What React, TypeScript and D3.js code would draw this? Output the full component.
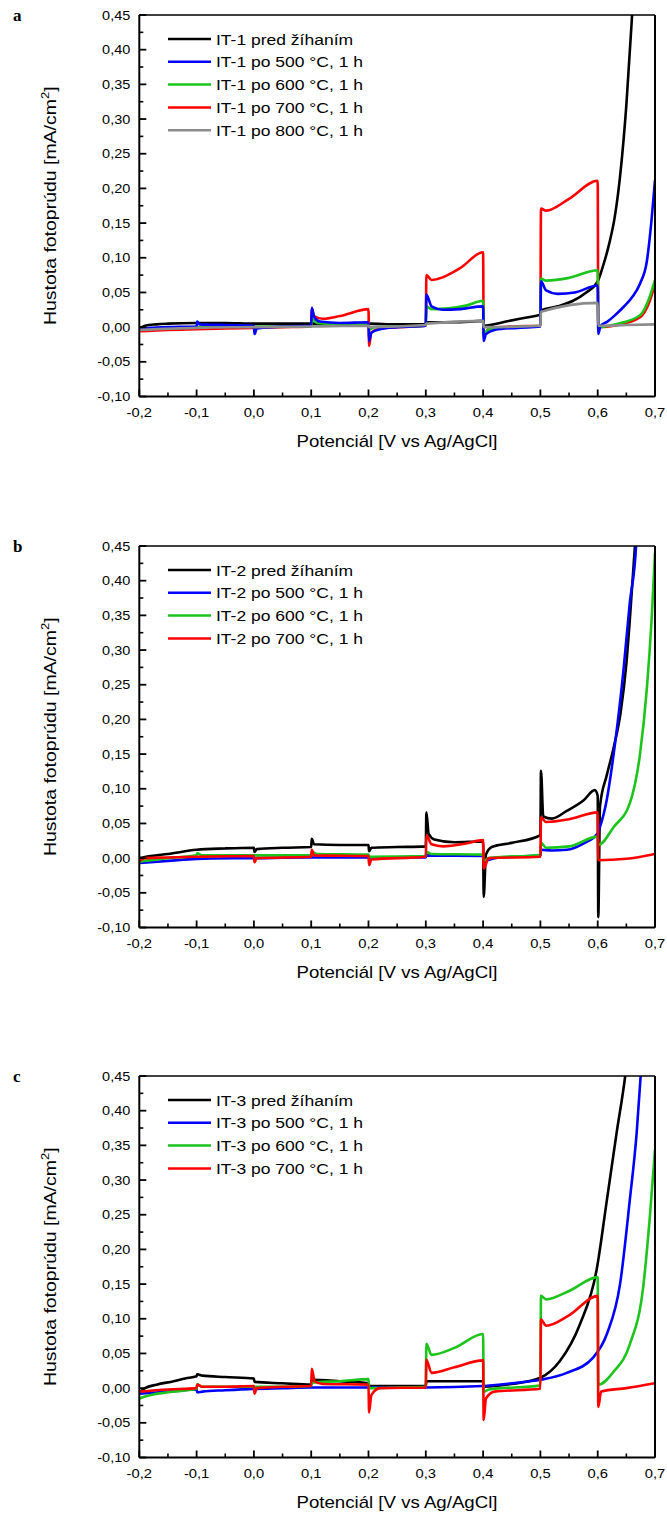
import React from "react";
import * as d3 from "d3";

type P = [number, number];

const xTicks = [-0.2, -0.1, 0.0, 0.1, 0.2, 0.3, 0.4, 0.5, 0.6, 0.7];
const yTicks = [-0.1, -0.05, 0, 0.05, 0.1, 0.15, 0.2, 0.25, 0.3, 0.35, 0.4, 0.45];

const legendA = ["IT-1 pred žíhaním", "IT-1 po 500 °C, 1 h", "IT-1 po 600 °C, 1 h", "IT-1 po 700 °C, 1 h", "IT-1 po 800 °C, 1 h"];
const legendB = ["IT-2 pred žíhaním", "IT-2 po 500 °C, 1 h", "IT-2 po 600 °C, 1 h", "IT-2 po 700 °C, 1 h"];
const legendC = ["IT-3 pred žíhaním", "IT-3 po 500 °C, 1 h", "IT-3 po 600 °C, 1 h", "IT-3 po 700 °C, 1 h"];

const colors = ["#000000", "#0000ff", "#1cc41c", "#ff0000", "#8c8c8c"];

// Panel a
const aBlack: P[] = [[-0.2,-0.002],[-0.19,0.002],[-0.17,0.004],[-0.15,0.005],[-0.1,0.006],[-0.05,0.006],[0.0,0.005],[0.05,0.005],[0.1,0.005],[0.15,0.005],[0.2,0.005],[0.25,0.004],[0.3,0.004],[0.301,0.007],[0.35,0.007],[0.4,0.009],[0.401,0.002],[0.44,0.008],[0.476,0.014],[0.5,0.018],[0.501,0.024],[0.53,0.03],[0.557,0.038],[0.58,0.05],[0.6,0.066],[0.61,0.09],[0.62,0.12],[0.63,0.16],[0.64,0.225],[0.65,0.32],[0.66,0.45],[0.665,0.52]];
const aBlue: P[] = [[-0.2,-0.004],[-0.18,-0.001],[-0.15,0.0],[-0.1,0.001],[-0.099,0.008],[-0.095,0.004],[-0.05,0.003],[0.0,0.002],[0.001,-0.01],[0.005,-0.002],[0.05,0.001],[0.1,0.002],[0.101,0.028],[0.105,0.015],[0.115,0.008],[0.15,0.006],[0.2,0.007],[0.201,-0.02],[0.205,-0.008],[0.22,-0.003],[0.25,0.0],[0.3,0.002],[0.301,0.047],[0.31,0.03],[0.33,0.025],[0.36,0.026],[0.4,0.03],[0.401,-0.02],[0.405,-0.01],[0.42,-0.004],[0.46,-0.001],[0.5,0.001],[0.501,0.066],[0.51,0.053],[0.53,0.048],[0.56,0.05],[0.6,0.06],[0.601,-0.01],[0.605,0.002],[0.617,0.008],[0.63,0.017],[0.645,0.029],[0.66,0.043],[0.674,0.063],[0.686,0.096],[0.694,0.155],[0.7,0.212]];
const aGreen: P[] = [[-0.2,-0.004],[-0.15,-0.001],[-0.1,0.0],[-0.05,0.001],[0.0,0.001],[0.05,0.001],[0.1,0.001],[0.101,0.012],[0.11,0.006],[0.15,0.004],[0.2,0.004],[0.201,-0.004],[0.21,0.0],[0.25,0.001],[0.3,0.002],[0.301,0.03],[0.31,0.026],[0.34,0.027],[0.37,0.031],[0.4,0.038],[0.401,-0.01],[0.41,-0.003],[0.45,0.0],[0.5,0.002],[0.501,0.07],[0.51,0.067],[0.55,0.071],[0.6,0.082],[0.601,0.0],[0.62,0.002],[0.645,0.007],[0.675,0.018],[0.69,0.042],[0.7,0.068]];
const aRed: P[] = [[-0.2,-0.006],[-0.15,-0.004],[-0.1,-0.003],[-0.05,-0.002],[0.0,-0.001],[0.05,0.0],[0.1,0.001],[0.101,0.027],[0.105,0.016],[0.12,0.012],[0.15,0.016],[0.2,0.026],[0.201,-0.027],[0.205,-0.008],[0.22,-0.002],[0.25,0.0],[0.3,0.002],[0.301,0.075],[0.31,0.068],[0.33,0.072],[0.36,0.085],[0.4,0.108],[0.401,-0.012],[0.41,-0.002],[0.45,0.001],[0.5,0.002],[0.501,0.171],[0.51,0.168],[0.55,0.185],[0.6,0.211],[0.601,0.0],[0.62,0.001],[0.645,0.005],[0.675,0.015],[0.69,0.036],[0.7,0.062]];
const aGray: P[] = [[-0.2,-0.004],[-0.1,-0.001],[0.0,0.0],[0.1,0.001],[0.2,0.002],[0.201,0.0],[0.3,0.003],[0.301,0.005],[0.4,0.009],[0.401,0.0],[0.5,0.002],[0.501,0.022],[0.6,0.035],[0.601,0.002],[0.65,0.003],[0.7,0.004]];

// Panel b
const bBlack: P[] = [[-0.2,0.0],[-0.18,0.003],[-0.15,0.006],[-0.1,0.012],[-0.05,0.014],[0.0,0.015],[0.001,0.009],[0.005,0.013],[0.05,0.015],[0.1,0.016],[0.101,0.028],[0.105,0.02],[0.15,0.019],[0.2,0.019],[0.201,0.01],[0.205,0.015],[0.25,0.016],[0.3,0.017],[0.301,0.066],[0.305,0.035],[0.315,0.027],[0.35,0.023],[0.4,0.024],[0.401,-0.056],[0.405,0.005],[0.415,0.016],[0.45,0.022],[0.5,0.033],[0.501,0.126],[0.505,0.06],[0.52,0.057],[0.546,0.068],[0.575,0.083],[0.595,0.098],[0.6,0.09],[0.601,-0.085],[0.604,0.075],[0.616,0.12],[0.628,0.16],[0.64,0.21],[0.65,0.28],[0.656,0.343],[0.665,0.45],[0.67,0.52]];
const bBlue: P[] = [[-0.2,-0.007],[-0.15,-0.004],[-0.1,-0.001],[0.0,0.0],[0.1,0.001],[0.2,0.001],[0.3,0.001],[0.301,0.004],[0.4,0.003],[0.401,-0.004],[0.42,0.0],[0.5,0.004],[0.501,0.012],[0.52,0.011],[0.546,0.012],[0.575,0.021],[0.6,0.036],[0.604,0.045],[0.616,0.085],[0.628,0.151],[0.645,0.271],[0.656,0.368],[0.667,0.45],[0.67,0.5]];
const bGreen: P[] = [[-0.2,-0.005],[-0.15,0.0],[-0.1,0.004],[-0.099,0.007],[-0.09,0.004],[0.0,0.004],[0.05,0.004],[0.1,0.004],[0.101,0.009],[0.11,0.006],[0.2,0.005],[0.201,0.002],[0.3,0.003],[0.301,0.009],[0.31,0.006],[0.4,0.005],[0.401,-0.004],[0.41,0.0],[0.5,0.005],[0.501,0.022],[0.51,0.015],[0.55,0.017],[0.6,0.031],[0.601,0.019],[0.628,0.045],[0.656,0.079],[0.674,0.151],[0.686,0.247],[0.694,0.343],[0.7,0.44]];
const bRed: P[] = [[-0.2,-0.004],[-0.19,0.0],[-0.15,0.001],[-0.1,0.002],[0.0,0.003],[0.001,-0.006],[0.005,0.0],[0.1,0.002],[0.101,0.012],[0.105,0.004],[0.2,0.003],[0.201,-0.01],[0.205,-0.002],[0.3,0.002],[0.301,0.033],[0.31,0.02],[0.33,0.017],[0.37,0.021],[0.4,0.026],[0.401,-0.015],[0.41,0.0],[0.5,0.002],[0.501,0.059],[0.51,0.052],[0.55,0.056],[0.6,0.066],[0.601,-0.003],[0.65,-0.001],[0.7,0.006]];

// Panel c
const cBlack: P[] = [[-0.2,-0.006],[-0.19,0.0],[-0.17,0.005],[-0.14,0.01],[-0.12,0.014],[-0.1,0.017],[-0.099,0.02],[-0.09,0.018],[-0.05,0.016],[0.0,0.014],[0.001,0.009],[0.05,0.007],[0.1,0.005],[0.101,0.012],[0.15,0.01],[0.2,0.007],[0.201,0.003],[0.25,0.003],[0.3,0.003],[0.301,0.01],[0.4,0.01],[0.401,0.002],[0.45,0.006],[0.5,0.015],[0.534,0.039],[0.569,0.092],[0.598,0.17],[0.616,0.271],[0.633,0.368],[0.648,0.45],[0.655,0.5]];
const cBlue: P[] = [[-0.2,-0.008],[-0.15,-0.005],[-0.1,-0.002],[-0.099,-0.006],[-0.09,-0.005],[-0.05,-0.003],[0.0,-0.001],[0.05,0.0],[0.1,0.001],[0.2,0.001],[0.3,0.001],[0.4,0.003],[0.45,0.007],[0.5,0.012],[0.546,0.022],[0.592,0.044],[0.616,0.078],[0.639,0.15],[0.656,0.271],[0.668,0.368],[0.675,0.45],[0.68,0.52]];
const cGreen: P[] = [[-0.2,-0.015],[-0.18,-0.01],[-0.15,-0.006],[-0.1,-0.001],[-0.099,0.005],[-0.09,0.002],[0.0,0.002],[0.05,0.002],[0.1,0.003],[0.101,0.008],[0.15,0.01],[0.2,0.013],[0.201,0.0],[0.25,0.001],[0.3,0.002],[0.301,0.064],[0.31,0.048],[0.35,0.058],[0.4,0.078],[0.401,-0.005],[0.41,-0.002],[0.5,0.004],[0.501,0.133],[0.51,0.128],[0.55,0.14],[0.6,0.16],[0.601,0.005],[0.628,0.024],[0.656,0.063],[0.68,0.15],[0.691,0.247],[0.7,0.344]];
const cRed: P[] = [[-0.2,-0.005],[-0.15,-0.002],[-0.1,0.0],[-0.099,0.005],[-0.09,0.002],[-0.05,0.002],[0.0,0.003],[0.001,-0.008],[0.005,0.0],[0.05,0.002],[0.1,0.003],[0.101,0.028],[0.106,0.01],[0.12,0.006],[0.2,0.005],[0.201,-0.035],[0.205,-0.01],[0.22,0.0],[0.3,0.001],[0.301,0.041],[0.31,0.022],[0.35,0.03],[0.4,0.04],[0.401,-0.046],[0.405,-0.015],[0.42,-0.005],[0.5,-0.001],[0.501,0.099],[0.51,0.09],[0.55,0.105],[0.6,0.133],[0.601,-0.027],[0.606,-0.005],[0.65,0.0],[0.7,0.007]];

const panelTops = [15, 546, 1076];
const panelLetters = ["a", "b", "c"];

const panels = [
  { legend: legendA, series: [aBlack, aBlue, aGreen, aRed, aGray], order: [0, 3, 2, 1, 4] },
  { legend: legendB, series: [bBlack, bBlue, bGreen, bRed], order: [0, 1, 2, 3] },
  { legend: legendC, series: [cBlack, cBlue, cGreen, cRed], order: [0, 1, 2, 3] },
];

const LEFT = 139.3;
const RIGHT = 655;
const H = 381.5;
const FONT = "'Liberation Sans', Arial, sans-serif";

const fmtX = (v: number) => d3.format(".1f")(v).replace(".", ",").replace("−", "-");
const fmtY = (v: number) => d3.format(".2f")(v).replace(".", ",").replace("−", "-");

function SText({ x, y, sx, size, anchor, children }: { x: number; y: number; sx: number; size: number; anchor: string; children: React.ReactNode }) {
  return (
    <text transform={`translate(${x},${y}) scale(${sx},1)`} textAnchor={anchor} fontFamily={FONT} fontSize={size}>
      {children}
    </text>
  );
}

function Panel({ idx }: { idx: number }) {
  const top = panelTops[idx];
  const p = panels[idx];
  const x = d3.scaleLinear().domain([-0.2, 0.7]).range([LEFT, RIGHT]);
  const y = d3.scaleLinear().domain([-0.1, 0.45]).range([top + H, top]);
  const line = d3.line<P>().x((d) => x(d[0])).y((d) => y(d[1])).curve(d3.curveMonotoneX);
  const clipId = `clip${idx}`;
  const bottom = top + H;
  const xMinor = d3.range(-0.15, 0.7, 0.1);
  const yMinor = d3.range(-0.075, 0.45, 0.05);
  return (
    <g>
      <defs>
        <clipPath id={clipId}>
          <rect x={LEFT} y={top} width={RIGHT - LEFT} height={H} />
        </clipPath>
      </defs>
      <text x={13} y={top + 6} fontFamily="'Liberation Serif', serif" fontWeight="bold" fontSize={17}>
        {panelLetters[idx]}
      </text>
      <g clipPath={`url(#${clipId})`}>
        {p.order.map((si) => (
          <path key={si} d={line(p.series[si]) || ""} fill="none" stroke={colors[si]} strokeWidth={2.6} strokeLinejoin="round" />
        ))}
      </g>
      {/* frame */}
      <line x1={LEFT} x2={RIGHT} y1={top} y2={top} stroke="#000" strokeWidth={1.5} />
      <line x1={RIGHT} x2={RIGHT} y1={top} y2={bottom} stroke="#000" strokeWidth={2} />
      <line x1={LEFT} x2={LEFT} y1={top} y2={bottom} stroke="#000" strokeWidth={2} />
      <line x1={LEFT} x2={RIGHT} y1={bottom} y2={bottom} stroke="#000" strokeWidth={2} />
      {xTicks.map((t) => (
        <g key={`xt${t}`}>
          <line x1={x(t)} x2={x(t)} y1={bottom} y2={bottom - 7} stroke="#000" strokeWidth={1.8} />
          <SText x={x(t)} y={bottom + 20} sx={1.18} size={12.5} anchor="middle">
            {fmtX(t)}
          </SText>
        </g>
      ))}
      {xMinor.map((t) => (
        <line key={`xm${t}`} x1={x(t)} x2={x(t)} y1={bottom} y2={bottom - 4} stroke="#000" strokeWidth={1.6} />
      ))}
      {yTicks.map((t) => (
        <g key={`yt${t}`}>
          <line x1={LEFT} x2={LEFT + 7} y1={y(t)} y2={y(t)} stroke="#000" strokeWidth={1.8} />
          <SText x={LEFT - 9} y={y(t) + 4.5} sx={1.16} size={12.5} anchor="end">
            {fmtY(t)}
          </SText>
        </g>
      ))}
      {yMinor.map((t) => (
        <line key={`ym${t}`} x1={LEFT} x2={LEFT + 4} y1={y(t)} y2={y(t)} stroke="#000" strokeWidth={1.6} />
      ))}
      <text x={397} y={bottom + 50} textAnchor="middle" fontFamily={FONT} fontSize={17} textLength={201} lengthAdjust="spacingAndGlyphs">
        Potenciál [V vs Ag/AgCl]
      </text>
      <text
        transform={`translate(56,${top + H / 2}) rotate(-90) scale(1.18,1)`}
        textAnchor="middle"
        fontFamily={FONT}
        fontSize={16.5}
      >
        Hustota fotoprúdu [mA/cm
        <tspan fontSize={11} dy={-7}>2</tspan>
        <tspan dy={7}>]</tspan>
      </text>
      {p.legend.map((lab, i) => {
        const ly = top + 24 + i * 22.8;
        return (
          <g key={lab}>
            <line x1={168} x2={211} y1={ly} y2={ly} stroke={colors[i]} strokeWidth={2.5} />
            <SText x={216} y={ly + 5.5} sx={1.13} size={15.5} anchor="start">
              {lab}
            </SText>
          </g>
        );
      })}
    </g>
  );
}

export default function App() {
  return (
    <svg width={667} height={1515} style={{ position: "absolute", left: 0, top: 0, background: "#fff" }}>
      <rect width={667} height={1515} fill="#fff" />
      {[0, 1, 2].map((i) => (
        <Panel key={i} idx={i} />
      ))}
    </svg>
  );
}
